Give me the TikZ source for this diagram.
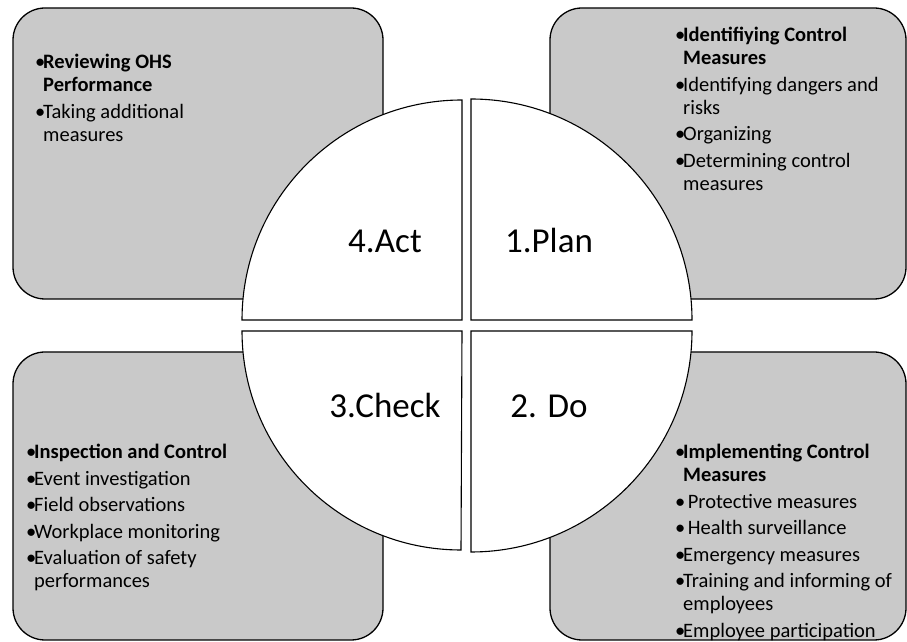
\documentclass[tikz,border=0pt]{standalone}
\usepackage{fontspec}
\setmainfont{Carlito}
\usetikzlibrary{calc}

\definecolor{boxgrey}{RGB}{201,201,201}
\newcommand{\bul}{\makebox[8pt][l]{\textbullet}}
\newcommand{\ind}{\hspace*{8pt}}

\begin{document}
\begin{tikzpicture}[x=1pt,y=1pt]

    \tikzset{
      box/.style={
        draw=black,
        line width=1.3pt,
        fill=boxgrey,
        rounded corners=32pt,
      },
      quarter/.style={
        draw=black,
        line width=1.1pt,
        fill=white,
      },
      stage/.style={
        anchor=base,
        inner sep=0pt,
        font=\fontsize{35}{40}\selectfont,
      },
      items/.style={
        anchor=north west,
        inner sep=0pt,
        align=left,
        font=\fontsize{20.5}{23}\selectfont,
      },
    }
    \useasboundingbox (0,0) rectangle (907,642);
	\draw[box] (13,343) rectangle (383,634);
	\draw[box] (550,343) rectangle (906,634);
	\draw[box] (13,2) rectangle (383,290);
	\draw[box] (550,2) rectangle (906,290);

	\draw[quarter] (462,322) -- (242,322) arc (180:90:220) -- cycle;
	\draw[quarter] (471,322) -- (692,322) arc (0:90:221) -- cycle;
	\draw[quarter] (462,311) -- (242,311) arc (180:270:219) -- cycle;
	\draw[quarter] (471,311) -- (692,311) arc (0:-90:221) -- cycle;

	\node (act) [stage] at (385,389) {4.Act};
	\node (plan) [stage] at (549,389) {1.Plan};
	\node (check) [stage] at (385,224) {3.Check};
	\node (do) [stage] at (549,224) {2. Do};

	\node (acttxt) [items] at (35,588) {\bul\textbf{Reviewing OHS}\\ \ind\textbf{Performance}\\[3.5pt]
	  \bul Taking additional\\ \ind measures};
	\node (plantxt) [items] at (675,615) {\bul\textbf{Identifiying Control}\\ \ind\textbf{Measures}\\[3.5pt]
	  \bul Identifying dangers and\\ \ind risks\\[3.5pt]
	  \bul Organizing\\[3.5pt]
	  \bul Determining control\\ \ind measures};
	\node (checktxt) [items] at (26,198) {\bul\textbf{Inspection and Control}\\[3.5pt]
	  \bul Event investigation\\[3.5pt]
	  \bul Field observations\\[3.5pt]
	  \bul Workplace monitoring\\[3.5pt]
	  \bul Evaluation of safety\\ \ind performances};
	\node (dotxt) [items] at (675,198) {\bul\textbf{Implementing Control}\\ \ind\textbf{Measures}\\[3.5pt]
	  \bul\ Protective measures\\[3.5pt]
	  \bul\ Health surveillance\\[3.5pt]
	  \bul Emergency measures\\[3.5pt]
	  \bul Training and informing of\\ \ind employees\\[3.5pt]
	  \bul Employee participation};

\end{tikzpicture}
\end{document}
